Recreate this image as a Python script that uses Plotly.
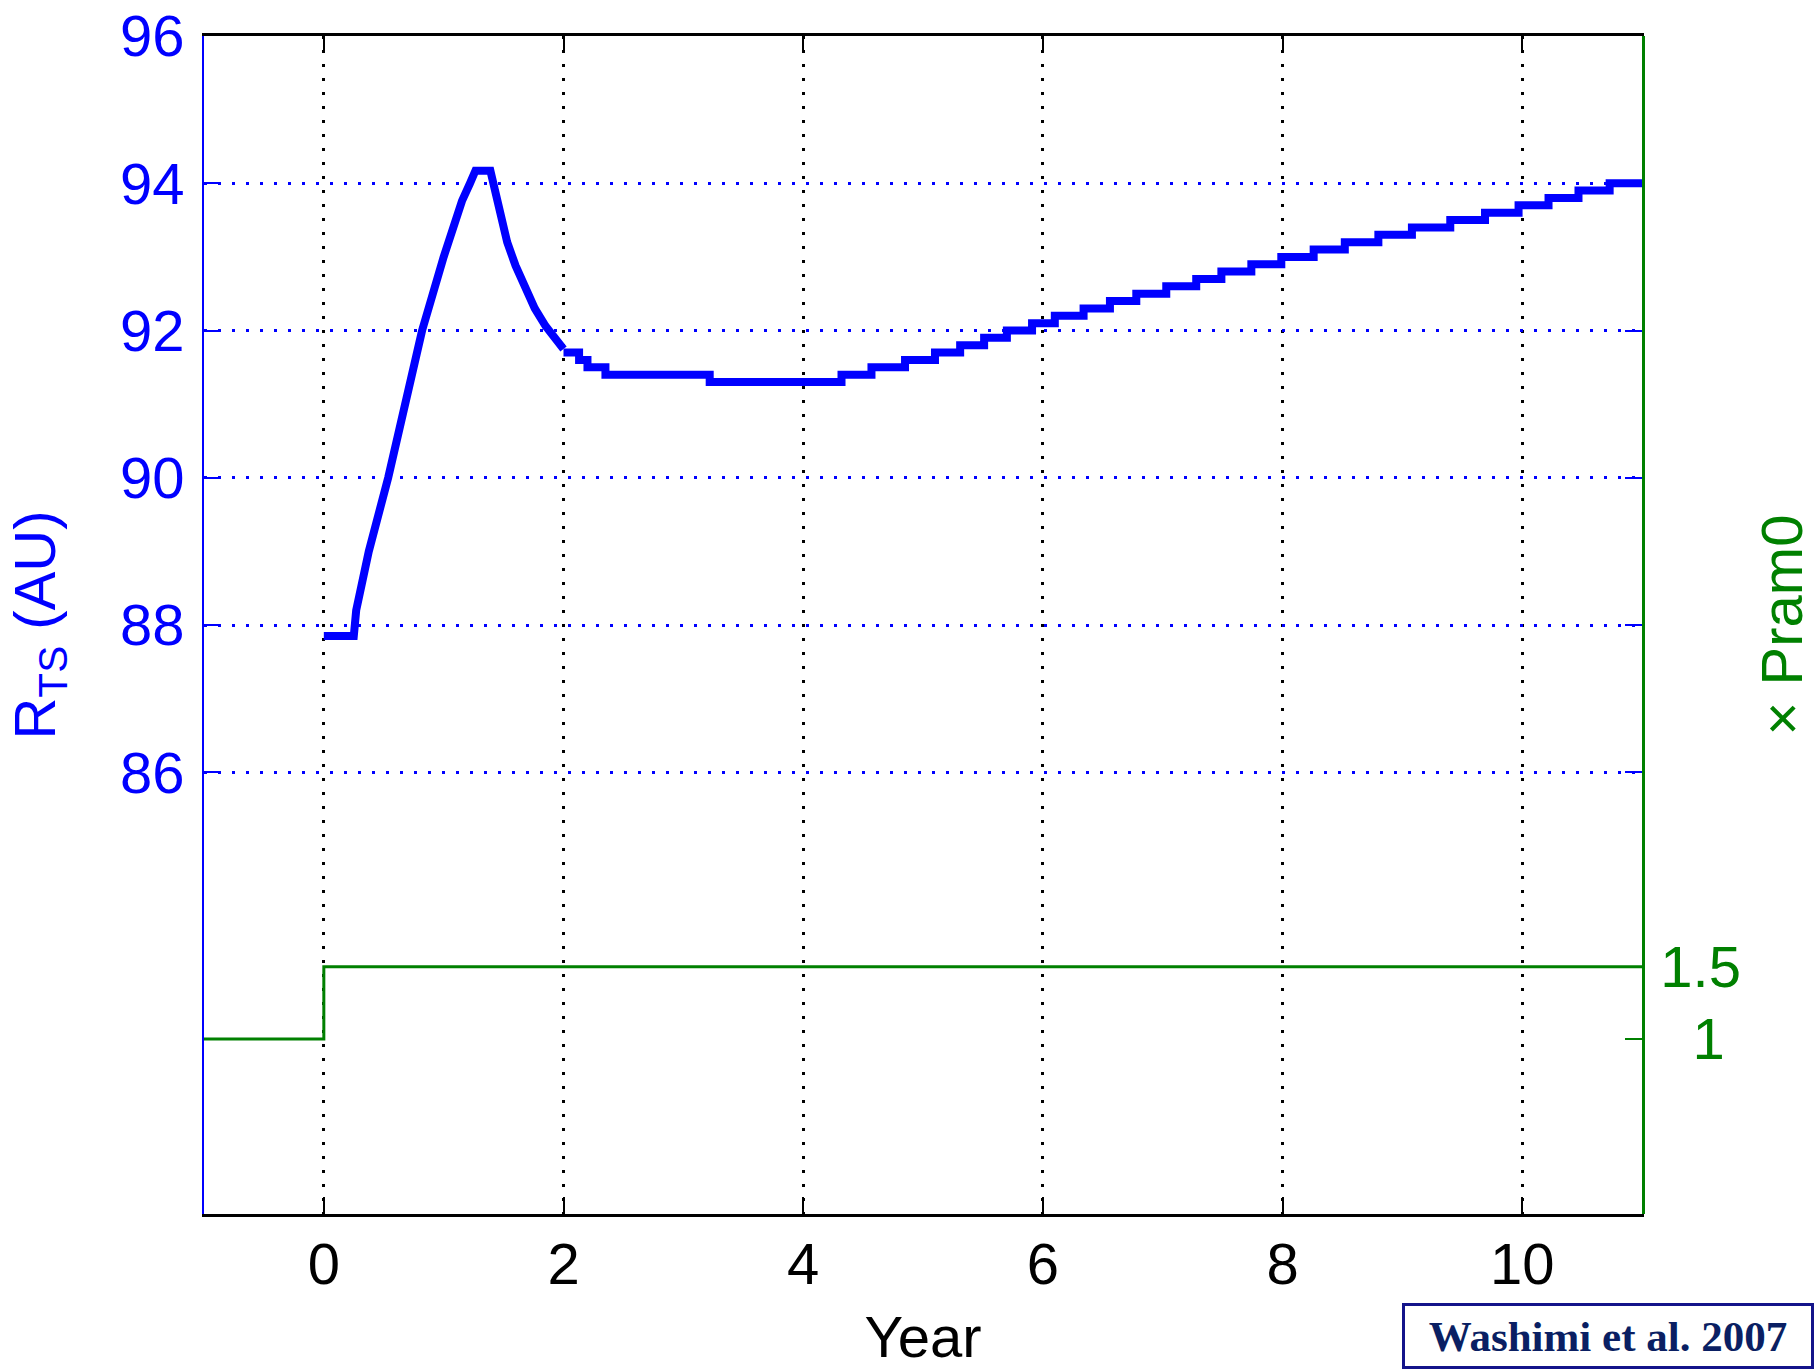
import plotly.graph_objects as go

# Termination-shock distance: transient after the pressure jump (piecewise linear)
rise_year = [0.0, 0.25, 0.27, 0.375, 0.537, 0.675, 0.82, 1.0, 1.08, 1.153, 1.22,
             1.265, 1.39, 1.42, 1.47, 1.53, 1.60, 1.68, 1.76, 1.85, 1.93, 2.0]
rise_rts = [87.85, 87.85, 88.2, 89.0, 90.0, 91.0, 92.0, 93.0, 93.4, 93.76, 94.0,
            94.17, 94.17, 93.95, 93.55, 93.2, 92.88, 92.56, 92.3, 92.06, 91.88, 91.75]

# Slow recovery, stored as step levels (value holds until the next year)
step_year = [2.0, 2.13, 2.2, 2.35, 3.22, 4.32, 4.57, 4.85, 5.1, 5.31, 5.51, 5.70, 5.91,
             6.1, 6.34, 6.56, 6.78, 7.03, 7.28, 7.49, 7.74, 7.99, 8.26, 8.52, 8.80, 9.08,
             9.40, 9.69, 9.97, 10.22, 10.47, 10.73, 11.0]
step_rts = [91.7, 91.6, 91.5, 91.4, 91.3, 91.4, 91.5, 91.6, 91.7, 91.8, 91.9, 92.0, 92.1,
            92.2, 92.3, 92.4, 92.5, 92.6, 92.7, 92.8, 92.9, 93.0, 93.1, 93.2, 93.3, 93.4,
            93.5, 93.6, 93.7, 93.8, 93.9, 94.0, 94.0]

# Ram-pressure multiplier
pram_year = [-1.0, 0.0, 11.0]
pram_factor = [1.0, 1.5, 1.5]

x_ticks = [0, 2, 4, 6, 8, 10]
rts_ticks = [86, 88, 90, 92, 94, 96]
pram_ticks = [1, 1.5]
pram_labels = ["\u20071", "1.5"]

BLUE = "#0000ff"
GREEN = "#008000"
FONT = "Liberation Sans, Arial, Helvetica, sans-serif"
FS = 58
DOTS = "3px,11px"

fig = go.Figure()
fig.add_trace(go.Scatter(x=rise_year, y=rise_rts, mode="lines",
                         line=dict(color=BLUE, width=8), showlegend=False))
fig.add_trace(go.Scatter(x=step_year, y=step_rts, mode="lines", line_shape="hv",
                         line=dict(color=BLUE, width=8), showlegend=False))
fig.add_trace(go.Scatter(x=pram_year, y=pram_factor, mode="lines", line_shape="hv",
                         line=dict(color=GREEN, width=3), yaxis="y2", showlegend=False))

fig.update_layout(
    width=1814, height=1369,
    margin=dict(l=204, r=172, t=36, b=155, autoexpand=False),
    paper_bgcolor="white", plot_bgcolor="white",
    font=dict(family=FONT, size=FS),
    xaxis=dict(
        range=[-1, 11], tickvals=x_ticks, ticktext=[str(v) for v in x_ticks],
        ticks="inside", ticklen=17, tickwidth=2, tickcolor="black",
        showline=True, linecolor="black", linewidth=3, mirror="ticks",
        showgrid=True, gridcolor="black", gridwidth=2.5, griddash=DOTS,
        zeroline=False, tickfont=dict(color="black", size=FS),
        ticklabelstandoff=-3,
        title=dict(text="Year", font=dict(color="black", size=FS), standoff=39),
    ),
    yaxis=dict(
        range=[80, 96], tickvals=rts_ticks, ticktext=[str(v) for v in rts_ticks],
        ticks="inside", ticklen=17, tickwidth=2, tickcolor=BLUE,
        showline=True, linecolor=BLUE, linewidth=2, mirror="ticks",
        showgrid=True, gridcolor=BLUE, gridwidth=2.5, griddash=DOTS,
        zeroline=False, tickfont=dict(color=BLUE, size=FS),
        ticklabelstandoff=6,
        title=dict(text="R<sub>TS</sub> (AU)", font=dict(color=BLUE, size=FS), standoff=46),
    ),
    yaxis2=dict(
        overlaying="y", side="right", range=[-0.21, 7.94],
        tickvals=pram_ticks, ticktext=pram_labels,
        ticks="inside", ticklen=17, tickwidth=2, tickcolor=GREEN,
        showline=True, linecolor=GREEN, linewidth=2.5,
        showgrid=False, zeroline=False, tickfont=dict(color=GREEN, size=FS),
        ticklabelstandoff=4,
        title=dict(text="× Pram0", font=dict(color=GREEN, size=FS), standoff=40),
    ),
    annotations=[dict(
        text="<b>Washimi et al. 2007</b>", xref="paper", yref="paper",
        x=(1814 - 204) / 1438, y=(1214 - 1369) / 1178,
        xanchor="right", yanchor="bottom", showarrow=False,
        font=dict(family="Liberation Serif, Times New Roman, serif", size=43, color="#0a1f63"),
        bgcolor="white", bordercolor="#14148a", borderwidth=3, borderpad=0,
        width=406, height=60, align="center", valign="middle",
    )],
)

fig.write_html("out.html")
